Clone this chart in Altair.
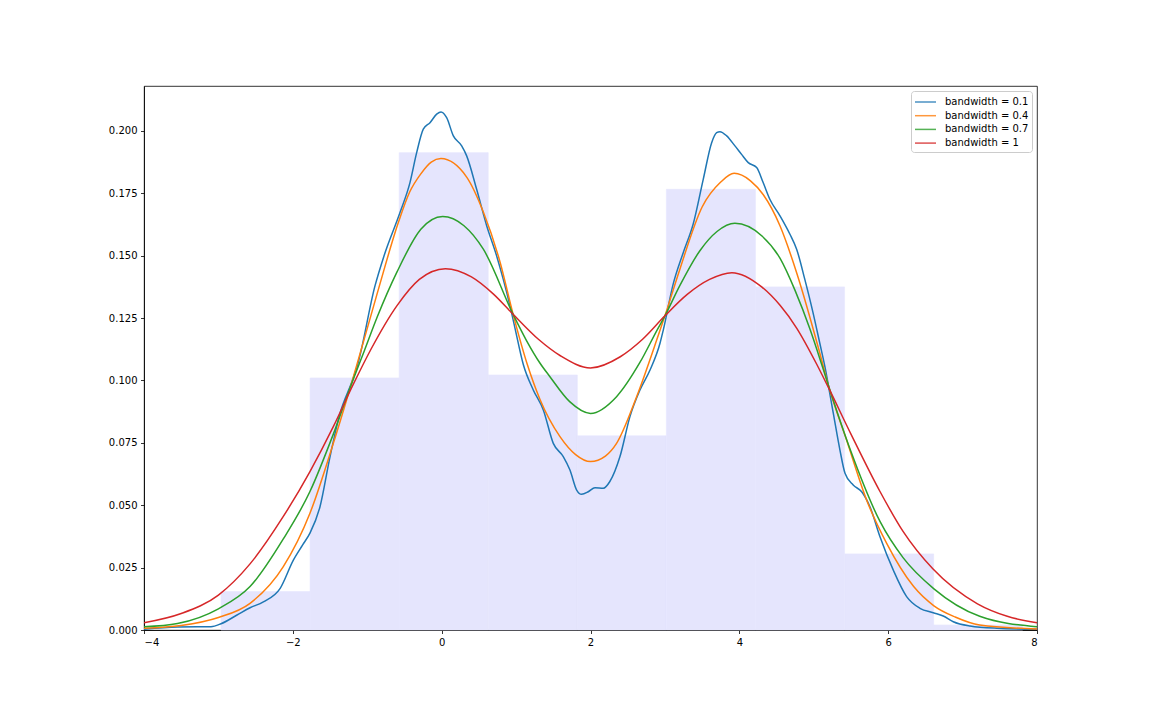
import altair as alt
import pandas as pd

# ---- histogram (bin edges and densities) ----
bin_edges = [-2.965, -1.768, -0.571, 0.626, 1.823, 3.02, 4.217, 5.414, 6.611, 7.808]
bin_heights = [0.0154, 0.101, 0.1913, 0.1022, 0.0778, 0.1766, 0.1375, 0.0305, 0.002]

# ---- KDE curves ----
bw01_x = [-4.0, -3.55, -3.1, -2.965, -2.75, -2.575, -2.396, -2.17, -1.993, -1.87, -1.77,
          -1.635, -1.5, -1.366, -1.2, -1.134, -0.896, -0.775, -0.56, -0.426, -0.336,
          -0.247, -0.157, -0.067, -0.009, 0.067, 0.157, 0.269, 0.336, 0.47, 0.605,
          0.739, 0.828, 0.918, 0.985, 1.097, 1.231, 1.366, 1.5, 1.634, 1.724, 1.814,
          1.881, 1.97, 2.06, 2.172, 2.26, 2.396, 2.53, 2.665, 2.8, 2.934, 2.978, 3.11,
          3.246, 3.38, 3.515, 3.628, 3.695, 3.74, 3.83, 3.941, 4.03, 4.12, 4.233, 4.32,
          4.41, 4.546, 4.68, 4.77, 4.88, 4.99, 5.08, 5.15, 5.263, 5.352, 5.42, 5.53,
          5.644, 5.755, 5.89, 6.069, 6.248, 6.427, 6.606, 6.74, 6.875, 7.1, 7.46, 8.0]
bw01_y = [0.0003, 0.0012, 0.0013, 0.0025, 0.006, 0.0089, 0.0113, 0.0167, 0.028, 0.034, 0.0388,
          0.0494, 0.0695, 0.0868, 0.100, 0.1058, 0.1379, 0.1499, 0.1673, 0.1793, 0.1913,
          0.2007, 0.2033, 0.2067, 0.2076, 0.2053, 0.198, 0.194, 0.19, 0.1766, 0.162,
          0.1499, 0.1405, 0.1299, 0.121, 0.1064, 0.0962, 0.0882, 0.0748, 0.0695, 0.0641, 0.0561,
          0.0544, 0.0554, 0.057, 0.0568, 0.0595, 0.0695, 0.0855, 0.0962, 0.1042, 0.1149, 0.1202, 0.1385,
          0.1512, 0.1627, 0.1806, 0.1953, 0.1993, 0.1997, 0.198, 0.194, 0.1906, 0.1873, 0.1853, 0.1793,
          0.1726, 0.166, 0.1586, 0.1526, 0.1405, 0.1272, 0.1151, 0.1055, 0.0868, 0.0721, 0.0628, 0.0581,
          0.0554, 0.0494, 0.0374, 0.024, 0.0134, 0.0087, 0.0069, 0.0056, 0.0033, 0.0016, 0.0007, 0.0003]

bw04_x = [-4.0, -3.5, -3.0, -2.575, -2.128, -1.77, -1.456, -1.2, -0.865, -0.58, -0.43,
          -0.28, -0.14, -0.01, 0.336, 0.56, 0.784, 0.96, 1.15, 1.32, 1.59, 1.8, 2.0,
          2.2, 2.35, 2.62, 2.91, 3.0, 3.2, 3.5, 3.75, 3.93, 4.15, 4.32, 4.546, 4.77,
          5.08, 5.195, 5.44, 5.71, 5.98, 6.34, 6.615, 6.9, 7.23, 8.0]
bw04_y = [0.0007, 0.0018, 0.005, 0.0107, 0.0254, 0.0468, 0.0748, 0.100, 0.135, 0.1635, 0.1755,
          0.1828, 0.1875, 0.1889, 0.1815, 0.1675, 0.1475, 0.1265, 0.1065, 0.0925, 0.0775, 0.0703, 0.0675,
          0.0697, 0.0748, 0.0935, 0.118, 0.1259, 0.1445, 0.1695, 0.1795, 0.183, 0.180, 0.1745, 0.162, 0.1432,
          0.1111, 0.0982, 0.0762, 0.0521, 0.0347, 0.0175, 0.0097, 0.0052, 0.002, 0.0004]

bw07_x = [-4.0, -3.55, -3.0, -2.575, -2.128, -1.77, -1.456, -1.2, -1.044, -0.865, -0.6,
          -0.28, 0.014, 0.3, 0.56, 0.96, 1.14, 1.32, 1.455, 1.72, 2.0, 2.35, 2.66, 2.9,
          3.0, 3.2, 3.47, 3.7, 3.94, 4.3, 4.546, 4.75, 4.95, 5.106, 5.195, 5.5, 5.89,
          6.2, 6.615, 7.23, 8.0]
bw07_y = [0.0013, 0.0026, 0.0085, 0.0174, 0.0365, 0.0555, 0.0785, 0.0995, 0.1115, 0.1255, 0.1435,
          0.1606, 0.1657, 0.162, 0.1526, 0.1265, 0.116, 0.107, 0.1015, 0.0915, 0.0868, 0.0935, 0.107, 0.1205,
          0.1259, 0.138, 0.152, 0.1597, 0.163, 0.158, 0.149, 0.136, 0.1205, 0.1065, 0.0982, 0.0715, 0.0435,
          0.029, 0.0165, 0.0055, 0.0013]

bw1_x = [-4.0, -3.5, -3.0, -2.575, -2.128, -1.77, -1.456, -1.187, -0.95, -0.6, -0.3, 0.05,
         0.4, 0.7, 0.96, 1.3, 1.6, 2.0, 2.4, 2.7, 3.0, 3.3, 3.6, 3.9, 4.3, 4.55, 4.77,
         5.04, 5.2, 5.5, 5.89, 6.2, 6.6, 7.2, 7.6, 8.0]
bw1_y = [0.0029, 0.0066, 0.014, 0.0265, 0.0455, 0.0635, 0.0815, 0.0985, 0.1125, 0.130, 0.1405, 0.1448,
         0.1415, 0.1345, 0.1265, 0.1165, 0.1098, 0.105, 0.1095, 0.1165, 0.1259, 0.1345, 0.1405, 0.1432,
         0.1375, 0.130, 0.121, 0.1065, 0.097, 0.0785, 0.0555, 0.0395, 0.0245, 0.0105, 0.0055, 0.0029]

labels = ["bandwidth = 0.1", "bandwidth = 0.4", "bandwidth = 0.7", "bandwidth = 1"]
colors = ["#1f77b4", "#ff7f0e", "#2ca02c", "#d62728"]
x_ticks = [-4, -2, 0, 2, 4, 6, 8]
y_ticks = [0.0, 0.025, 0.05, 0.075, 0.1, 0.125, 0.15, 0.175, 0.2]

# ---- tables ----
hist_df = pd.DataFrame({
    "x0": bin_edges[:-1],
    "x1": bin_edges[1:],
    "h": bin_heights,
})
rows = []
for lab, xs, ys in zip(labels, [bw01_x, bw04_x, bw07_x, bw1_x], [bw01_y, bw04_y, bw07_y, bw1_y]):
    for i, (a, b) in enumerate(zip(xs, ys)):
        rows.append({"x": a, "y": b, "series": lab, "order": i})
kde_df = pd.DataFrame(rows)

xscale = alt.Scale(domain=[-4, 8], nice=False, zero=False)
yscale = alt.Scale(domain=[0, 0.218], nice=False, zero=False)

xaxis = alt.Axis(values=x_ticks, format="d", title=None, grid=False)
yaxis = alt.Axis(values=y_ticks, format=".3f", title=None, grid=False)

hist = alt.Chart(hist_df).mark_rect(
    color="#e5e5fd", stroke="#e5e5fd", strokeWidth=0.6
).encode(
    x=alt.X("x0:Q", scale=xscale, axis=xaxis),
    x2="x1:Q",
    y=alt.Y("h:Q", scale=yscale, axis=yaxis),
    y2=alt.datum(0),
)

lines = alt.Chart(kde_df).mark_line(strokeWidth=1.5, interpolate="monotone", clip=True).encode(
    x=alt.X("x:Q", scale=xscale, axis=xaxis),
    y=alt.Y("y:Q", scale=yscale, axis=yaxis),
    order="order:Q",
    color=alt.Color(
        "series:N",
        scale=alt.Scale(domain=labels, range=colors),
        sort=labels,
        legend=alt.Legend(
            title=None,
            orient="top-right",
            offset=5,
            symbolType="M-1,0H2",
            symbolSize=196,
            symbolStrokeWidth=1.5,
            symbolOpacity=0.8,
            labelOffset=15,
            labelFontSize=10,
            labelFont="DejaVu Sans",
            labelColor="#000000",
            rowPadding=0.7,
            padding=3,
            strokeColor="#cccccc",
            fillColor="rgba(255,255,255,0.8)",
            cornerRadius=3,
        ),
    ),
)

chart = alt.layer(hist, lines).properties(
    width=893,
    height=544,
    padding={"left": 136, "top": 78, "right": 107, "bottom": 82},
    autosize=alt.AutoSizeParams(type="none"),
).configure_view(
    stroke="#000000",
    strokeWidth=0.8,
).configure_axis(
    domainColor="#000000",
    domainWidth=0.8,
    tickColor="#000000",
    tickWidth=0.8,
    tickSize=3.5,
    labelColor="#000000",
    labelFont="DejaVu Sans",
    labelFontSize=10,
    labelPadding=3.5,
)

chart.save("out.html", embed_options={"renderer": "svg", "actions": False})
